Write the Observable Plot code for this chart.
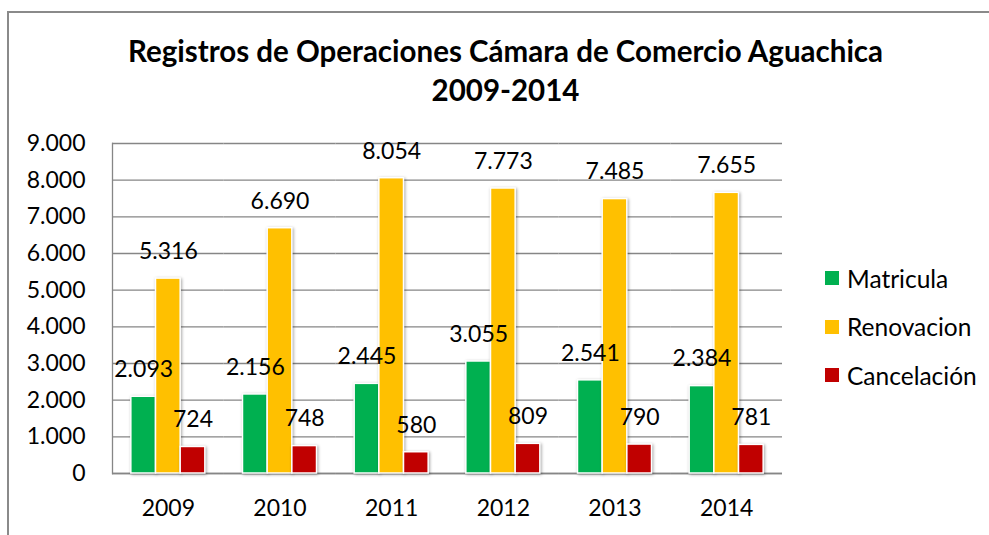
<!DOCTYPE html>
<html>
<head>
<meta charset="utf-8">
<script src="https://cdn.jsdelivr.net/npm/d3@7"></script>
<script src="https://cdn.jsdelivr.net/npm/@observablehq/plot@0.6"></script>
<style>
  html, body { margin: 0; padding: 0; background: #fff; }
  #wrap { position: relative; width: 989px; height: 535px; overflow: hidden; background: #fff; font-family: Lato, "Open Sans", sans-serif; }
  #border { position: absolute; left: 7px; top: 11px; width: 1100px; height: 700px; border: 2px solid #8a8a8a; box-sizing: border-box; }
  #chart { position: absolute; left: 0; top: 0; }
  #title { position: absolute; left: 0; top: 31px; width: 1011px; text-align: center; font-weight: 700; font-size: 29.5px; line-height: 39px; color: #000; }
  #legend { position: absolute; left: 825px; top: 254px; }
  .item { display: flex; align-items: center; height: 48.5px; font-size: 24.5px; color: #000; }
  .sw { width: 14px; height: 14px; margin-right: 8px; }
  g[aria-label="bar"] rect { filter: drop-shadow(1.5px 1.5px 1.5px rgba(0,0,0,0.35)); }
</style>
</head>
<body>
<div id="wrap">
  <div id="border"></div>
  <div id="chart"></div>
  <div id="title">Registros de Operaciones Cámara de Comercio Aguachica<br>2009-2014</div>
  <div id="legend"></div>
</div>
<script>
const years = ["2009", "2010", "2011", "2012", "2013", "2014"];
const series = ["Matricula", "Renovacion", "Cancelación"];
const matricula = [2093, 2156, 2445, 3055, 2541, 2384];
const renovacion = [5316, 6690, 8054, 7773, 7485, 7655];
const cancelacion = [724, 748, 580, 809, 790, 781];
const colors = ["#00B050", "#FFC000", "#C00000"];
const yTicks = [0, 1000, 2000, 3000, 4000, 5000, 6000, 7000, 8000, 9000];

const valuesBySeries = [matricula, renovacion, cancelacion];
const table = [];
years.forEach((yr, i) => {
  series.forEach((s, j) => {
    table.push({ year: yr, series: s, value: valuesBySeries[j][i] });
  });
});

const fmt = d => d3.format(",")(d).replace(/,/g, ".");
const gridColor = "#868686";

const chart = Plot.plot({
  width: 989,
  height: 535,
  marginTop: 143,
  marginBottom: 62,
  marginLeft: 112,
  marginRight: 207,
  style: { fontFamily: "Lato, 'Open Sans', sans-serif", fontSize: "23px", color: "#000", background: "transparent" },
  fx: { domain: years, padding: 0, round: false, label: null },
  x: { domain: series, paddingInner: 0, paddingOuter: 0.763, round: false, axis: null },
  y: { domain: [0, 9000], label: null },
  color: { domain: series, range: colors },
  marks: [
    Plot.gridY(yTicks, { stroke: gridColor, strokeOpacity: 1, strokeWidth: 1.3 }),
    Plot.frame({ anchor: "left", facetAnchor: "left", stroke: gridColor, strokeWidth: 1.3 }),
    Plot.ruleY([0], { stroke: gridColor, strokeWidth: 1.5 }),
    Plot.barY(table, { fx: "year", x: "series", y: "value", fill: "series", stroke: "white", strokeWidth: 1.5 }),
    Plot.text(table, { fx: "year", x: "series", y: "value", text: d => fmt(d.value), dy: -27, fontSize: 23, fill: "#000" }),
    Plot.axisY(yTicks, { tickSize: 0, tickPadding: 27, tickFormat: fmt, fontSize: 23, label: null }),
    Plot.axisFx({ anchor: "bottom", tickSize: 0, tickPadding: 26, fontSize: 23, label: null })
  ]
});
document.getElementById("chart").appendChild(chart);

const legend = document.getElementById("legend");
series.forEach((s, j) => {
  const it = document.createElement("div");
  it.className = "item";
  const sw = document.createElement("span");
  sw.className = "sw";
  sw.style.background = colors[j];
  const t = document.createElement("span");
  t.textContent = s;
  it.appendChild(sw);
  it.appendChild(t);
  legend.appendChild(it);
});
</script>
</body>
</html>
